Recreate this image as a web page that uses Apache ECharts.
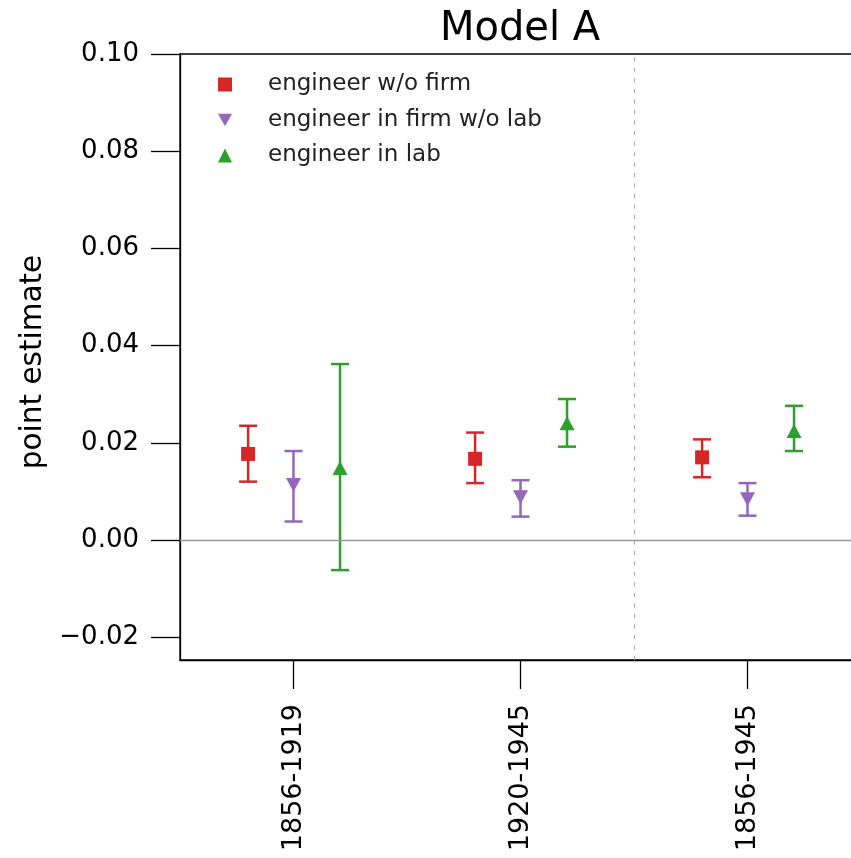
<!DOCTYPE html>
<html style="height: 100%">

<head>
    <meta charset="UTF-8" />
    <script type="text/javascript" src="https://cdn.jsdelivr.net/npm/echarts@6.0.0/dist/echarts.min.js"></script>
</head>

<body style="height: 100%; margin: 0; background: #fff; overflow: hidden">
    <div id="container" style="width: 880px; height: 858px"></div>
    <script>
        // categories and data
        var periods = ['1856-1919', '1920-1945', '1856-1945'];
        var names = ['engineer w/o firm', 'engineer in firm w/o lab', 'engineer in lab'];
        var colors = ['#d62728', '#9467bd', '#2ca02c'];
        var offsets = [-0.2, 0, 0.205];

        var estWoFirm = [0.0177, 0.0167, 0.0170];
        var lowWoFirm = [0.0120, 0.0117, 0.0129];
        var highWoFirm = [0.0235, 0.0221, 0.0207];

        var estNoLab = [0.0113, 0.0088, 0.0084];
        var lowNoLab = [0.0038, 0.0048, 0.0050];
        var highNoLab = [0.0183, 0.0123, 0.0117];

        var estLab = [0.0148, 0.0240, 0.0224];
        var lowLab = [-0.0062, 0.0192, 0.0183];
        var highLab = [0.0362, 0.0290, 0.0276];

        var yTicks = [-0.02, 0, 0.02, 0.04, 0.06, 0.08, 0.10];

        var est = [estWoFirm, estNoLab, estLab];
        var low = [lowWoFirm, lowNoLab, lowLab];
        var high = [highWoFirm, highNoLab, highLab];
        var symbols = ['rect', 'path://M0,0 L10,0 L5,9 Z', 'triangle'];
        var sizes = [[14, 14], [15, 14], [15, 14]];

        var dom = document.getElementById("container");
        var chart = echarts.init(dom);
        var font = 'DejaVu Sans';

        function errorBar(params, api) {
            var x = api.value(0);
            var p1 = api.coord([x, api.value(1)]);
            var p2 = api.coord([x, api.value(2)]);
            var hw = 9;
            var style = { stroke: api.visual('color'), lineWidth: 2.5 };
            return {
                type: 'group',
                children: [
                    { type: 'line', shape: { x1: p1[0], y1: p1[1], x2: p2[0], y2: p2[1] }, style: style },
                    { type: 'line', shape: { x1: p1[0] - hw, y1: p1[1], x2: p1[0] + hw, y2: p1[1] }, style: style },
                    { type: 'line', shape: { x1: p2[0] - hw, y1: p2[1], x2: p2[0] + hw, y2: p2[1] }, style: style }
                ]
            };
        }

        var series = [];
        for (var s = 0; s < 3; s++) {
            var bars = [], pts = [];
            for (var i = 0; i < periods.length; i++) {
                bars.push([i + offsets[s], low[s][i], high[s][i]]);
                pts.push([i + offsets[s], est[s][i]]);
            }
            series.push({
                name: names[s],
                type: 'custom',
                renderItem: errorBar,
                itemStyle: { color: colors[s] },
                data: bars,
                z: 3,
                silent: true
            });
            series.push({
                name: names[s],
                type: 'scatter',
                symbol: symbols[s],
                symbolSize: sizes[s],
                itemStyle: { color: colors[s], opacity: 1 },
                data: pts,
                z: 4
            });
        }
        // zero line and panel divider
        series.push({
            type: 'line',
            data: [],
            markLine: {
                silent: true,
                symbol: 'none',
                label: { show: false },
                data: [
                    { yAxis: 0, lineStyle: { color: '#999', type: 'solid', width: 1.3 } },
                    { xAxis: 1.5, lineStyle: { color: '#aaa', type: [4, 6.5], width: 1.2 } }
                ]
            }
        });

        chart.setOption({
            animation: false,
            title: {
                text: 'Model A',
                left: 515,
                textAlign: 'center',
                top: 5,
                textStyle: { fontFamily: font, fontSize: 40, fontWeight: 'normal', color: '#000' }
            },
            legend: {
                left: 218,
                top: 73,
                padding: 0,
                orient: 'vertical',
                itemWidth: 14,
                itemHeight: 14,
                itemGap: 12.5,
                data: names.map(function (n, k) {
                    return { name: n, icon: symbols[k] };
                }),
                textStyle: { fontFamily: font, fontSize: 23, lineHeight: 23, color: '#222', padding: [0, 0, 0, 31] }
            },
            grid: {
                left: 180,
                top: 54,
                width: 681,
                height: 606,
                show: true,
                borderColor: '#000',
                borderWidth: 1.3,
                containLabel: false
            },
            xAxis: {
                type: 'value',
                min: -0.5,
                max: 2.5,
                splitLine: { show: false },
                axisLine: { onZero: false, lineStyle: { color: '#000', width: 1.3 } },
                axisTick: {
                    length: 29,
                    customValues: [0, 1, 2],
                    lineStyle: { color: '#000', width: 1.3 }
                },
                axisLabel: {
                    customValues: [0, 1, 2],
                    rotate: 90,
                    margin: 44,
                    fontFamily: font,
                    fontSize: 27,
                    color: '#000',
                    formatter: function (v) { return periods[Math.round(v)]; }
                }
            },
            yAxis: {
                type: 'value',
                min: -0.0247,
                max: 0.10,
                name: 'point estimate',
                nameLocation: 'middle',
                nameGap: 132,
                nameTextStyle: { fontFamily: font, fontSize: 29.5, color: '#000', padding: [0, 10, 0, 0] },
                splitLine: { show: false },
                axisLine: { show: true, onZero: false, lineStyle: { color: '#000', width: 1.3 } },
                axisTick: {
                    length: 29,
                    customValues: yTicks,
                    lineStyle: { color: '#000', width: 1.3 }
                },
                axisLabel: {
                    customValues: yTicks,
                    margin: 41,
                    fontFamily: font,
                    fontSize: 26,
                    color: '#000',
                    formatter: function (v) {
                        var t = Math.abs(v).toFixed(2);
                        return v < -1e-9 ? '\u2212' + t : t;
                    }
                }
            },
            series: series
        });
    </script>
</body>

</html>
